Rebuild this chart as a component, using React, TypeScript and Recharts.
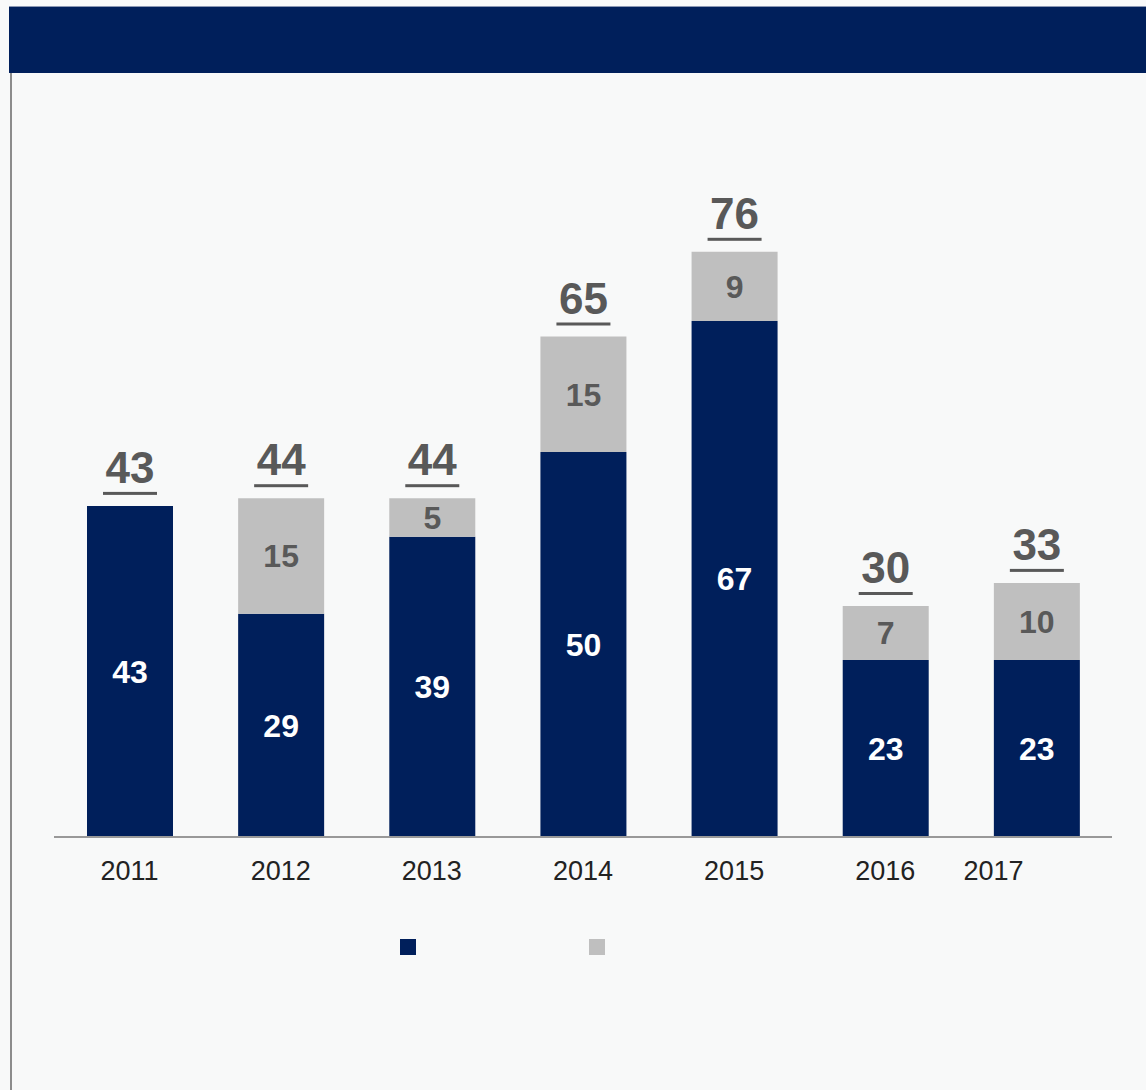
import { Bar, BarChart, LabelList, Legend, XAxis, YAxis } from "recharts";

const years = ["2011", "2012", "2013", "2014", "2015", "2016", "2017"];
const navyValues = [43, 29, 39, 50, 67, 23, 23];
const grayValues = [0, 15, 5, 15, 9, 7, 10];
const totals = [43, 44, 44, 65, 76, 30, 33];
const seriesOrder = ["navy", "gray"];

const NAVY = "#001f5b";
const GRAY = "#bfbfbf";
const TEXT_GRAY = "#595959";
const FONT = "'Liberation Sans', Arial, Helvetica, sans-serif";

const data = years.map((year, i) => ({
  year,
  navy: navyValues[i],
  gray: grayValues[i],
  total: totals[i],
}));

function YearTick({ x, y, payload }: any) {
  // the last label sits left of its bar in the original
  const dx = payload.value === "2017" ? -43 : 0;
  return (
    <text
      x={x + dx}
      y={y + 35}
      textAnchor="middle"
      fontSize={27}
      fontFamily={FONT}
      fill="#222"
    >
      {payload.value}
    </text>
  );
}

// drawn from the navy segment; the gray part on top is found from the same scale
function TotalLabel({ x, y, width, height, index }: any) {
  const perUnit = height / navyValues[index];
  const top = y - grayValues[index] * perUnit;
  const value = totals[index];
  const cx = x + width / 2;
  const w = String(value).length * 25 + 4;
  return (
    <g>
      <text
        x={cx}
        y={top - 23}
        textAnchor="middle"
        fontSize={44}
        fontWeight="bold"
        fontFamily={FONT}
        fill={TEXT_GRAY}
      >
        {value}
      </text>
      <rect x={cx - w / 2} y={top - 14} width={w} height={3} fill={TEXT_GRAY} />
    </g>
  );
}

function LegendSquares({ payload }: any) {
  const items = [...(payload ?? [])].sort(
    (a: any, b: any) => seriesOrder.indexOf(a.dataKey) - seriesOrder.indexOf(b.dataKey)
  );
  return (
    <div style={{ display: "flex", paddingLeft: 400 }}>
      {items.map((p: any) => (
        <div key={p.dataKey} style={{ width: 189 }}>
          <div style={{ width: 16, height: 16, background: p.color }} />
        </div>
      ))}
    </div>
  );
}

const hideZero = (v: any) => (v ? v : "");

export default function App() {
  return (
    <div
      style={{
        position: "relative",
        width: 1146,
        height: 1090,
        background: "#f8f9f9",
        overflow: "hidden",
        fontFamily: FONT,
      }}
    >
      <style>{`body{margin:0}`}</style>
      <div
        style={{
          position: "absolute",
          left: 9,
          top: 6,
          width: 1137,
          height: 67,
          background: NAVY,
          borderTop: "1px solid #8a97b3",
          boxSizing: "border-box",
        }}
      />
      <div
        style={{
          position: "absolute",
          left: 10,
          top: 73,
          width: 2,
          height: 1017,
          background: "#8c8c8c",
        }}
      />
      <div style={{ position: "absolute", left: 0, top: 0 }}>
        <BarChart
          width={1146}
          height={1090}
          data={data}
          margin={{ top: 221, right: 34, bottom: 177, left: 54 }}
          barSize={86}
        >
          <YAxis hide domain={[0, 80]} />
          <XAxis
            dataKey="year"
            height={60}
            tickLine={false}
            axisLine={{ stroke: "#999", strokeWidth: 2 }}
            tick={<YearTick />}
            interval={0}
          />
          <Legend
            verticalAlign="bottom"
            content={<LegendSquares />}
            wrapperStyle={{ top: 939, bottom: "auto", left: 0, width: 1146, height: 16 }}
          />
          <Bar dataKey="navy" stackId="a" fill={NAVY} isAnimationActive={false}>
            <LabelList
              dataKey="navy"
              position="center"
              fill="#fff"
              fontSize={32}
              fontWeight="bold"
              fontFamily={FONT}
              formatter={hideZero}
            />
            <LabelList dataKey="total" content={<TotalLabel />} />
          </Bar>
          <Bar dataKey="gray" stackId="a" fill={GRAY} isAnimationActive={false}>
            <LabelList
              dataKey="gray"
              position="center"
              fill={TEXT_GRAY}
              fontSize={32}
              fontWeight="bold"
              fontFamily={FONT}
              formatter={hideZero}
            />
          </Bar>
        </BarChart>
      </div>
    </div>
  );
}
